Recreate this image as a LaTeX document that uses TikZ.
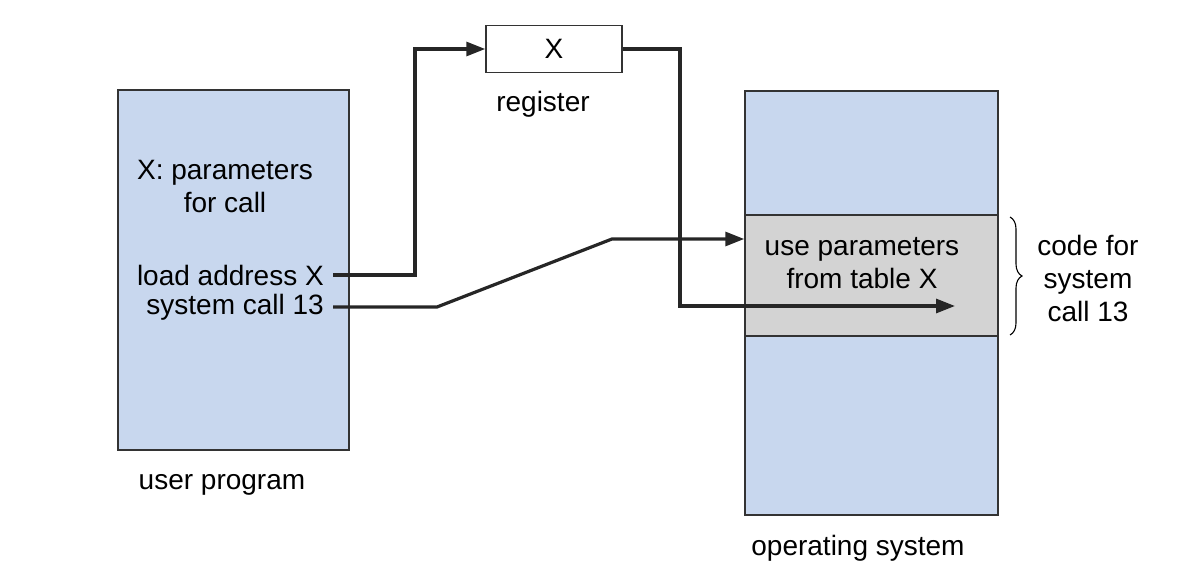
\documentclass[tikz,border=0pt]{standalone}
\usepackage{fontspec}
\setmainfont{Liberation Sans}
\usepackage{xcolor}
\usetikzlibrary{arrows.meta,decorations.pathreplacing}

\definecolor{memblue}{HTML}{C8D7EE}
\definecolor{codegray}{HTML}{D3D3D3}
\definecolor{edge}{HTML}{333333}

\begin{document}
\begin{tikzpicture}[x=1pt, y=-1pt,
  txt/.style={font={\fontsize{28}{33}\selectfont}, align=center, inner sep=0pt},
  mem/.style={draw=edge, line width=1.5pt, fill=memblue, inner sep=0pt},
  conn/.style={line width=3.2pt, black!85},
  tip/.style={-{Triangle[length=19pt,width=14pt]}}]
\useasboundingbox (0,0) rectangle (1202,588);
% user program side
\node[mem, minimum width=231pt, minimum height=360pt] (user) at (233.5,270) {};
\node[txt] (params) at (225,187) {X: parameters\\for call};
\node[txt, anchor=east, inner xsep=9pt] (load) at (333,275) {load address X};
\node[txt, anchor=east, inner xsep=9pt] (syscall) at (333,307) {system call 13};
\node[txt] (userlbl) at (222,485) {user program};
% register
\node[draw=edge, line width=1.5pt, fill=white, minimum width=136pt, minimum height=47pt, inner sep=0pt] (reg) at (554,49) {};
\node[txt] (regx) at (reg.center) {X};
\node[txt] (reglbl) at (543,104) {register};
% operating system side
\node[mem, minimum width=253pt, minimum height=424pt] (os) at (871.5,303) {};
\node[draw=edge, line width=1.5pt, fill=codegray, minimum width=253pt, minimum height=121pt, inner sep=0pt] (code) at (871.5,275.5) {};
\node[txt] (uselbl) at (862,263) {use parameters\\from table X};
\node[txt] (oslbl) at (858,548) {operating system};
\draw[line width=1.1pt, decorate, decoration={brace, amplitude=12pt}]
  (1010,217) -- (1010,335);
\node[txt] (codelbl) at (1088,278) {code for\\system\\call 13};
% connectors
\coordinate (up) at (415,49);
\coordinate (kneeA) at (437,307);
\coordinate (kneeB) at (612,239);
\coordinate (down) at (680,306);
\coordinate (hit) at (955,306);
\draw[conn, tip] (load.east) -| (up) -- (reg.west);
\draw[conn, tip] (syscall.east) -- (kneeA) -- (kneeB) -- (code.west |- kneeB);
\draw[conn, tip] (reg.east) -| (down) -- (hit);
\end{tikzpicture}
\end{document}
